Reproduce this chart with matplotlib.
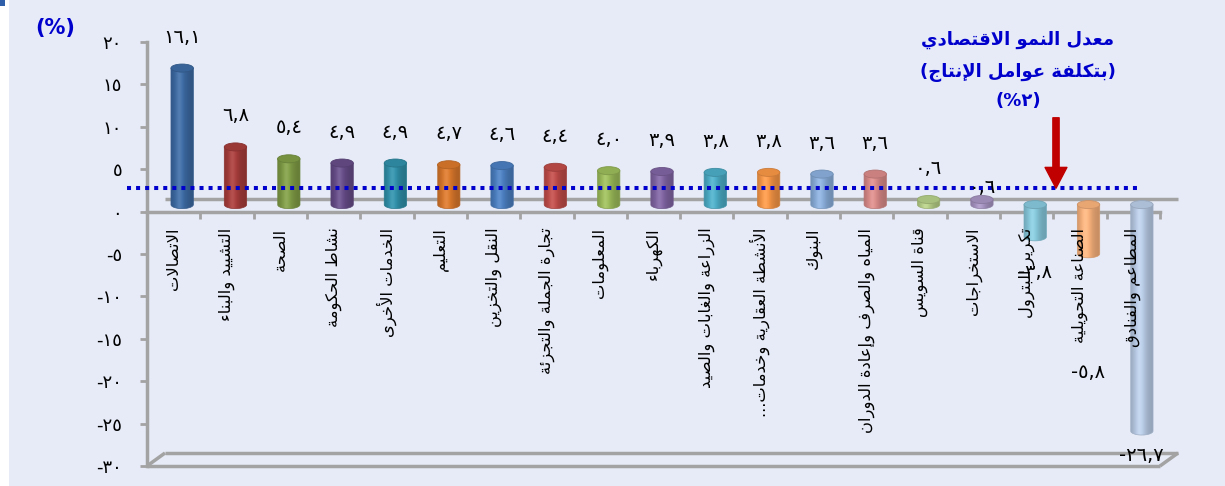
import numpy as np
import matplotlib
matplotlib.use("Agg")
import matplotlib.pyplot as plt
import matplotlib.colors as mcolors
import matplotlib.transforms as mtrans
from matplotlib.patches import Polygon, Ellipse, Rectangle, FancyArrowPatch

# ---------------------------------------------------------------- data
sectors = [
    "الاتصالات", "التشييد والبناء", "الصحة", "نشاط الحكومة", "الخدمات الأخرى",
    "التعليم", "النقل والتخزين", "تجارة الجملة والتجزئة", "المعلومات", "الكهرباء",
    "الزراعة والغابات والصيد", "الأنشطة العقارية وخدمات...", "البنوك",
    "المياه والصرف وإعادة الدوران", "قناة السويس", "الاستخراجات",
    "تكرير البترول", "الصناعة التحويلية", "المطاعم والفنادق",
]
growth = [16.1, 6.8, 5.4, 4.9, 4.9, 4.7, 4.6, 4.4, 4.0, 3.9,
          3.8, 3.8, 3.6, 3.6, 0.6, 0.6, -3.8, -5.8, -26.7]
avg_growth = 2.0
y_ticks = [20, 15, 10, 5, 0, -5, -10, -15, -20, -25, -30]
avg_title = ["معدل النمو الاقتصادي", "(بتكلفة عوامل الإنتاج)", "(٢%)"]
unit_label = "(%)"

# ---------------------------------------------------------------- styles
bar_colors = [
    "#3C6AA3", "#A63C3A", "#7F9C45", "#664C88", "#2F8FA8", "#D9772B",
    "#4A7EC0", "#BE4B48", "#9BBB59", "#8064A2", "#4BACC6", "#F79646",
    "#8AAEDB", "#D98A88", "#B5CE86", "#A794C2", "#86C8DC", "#F9B27C",
    "#B9CCE6",
]
# vertical position of each value label, pixels from the bar end (up is +)
label_dy = [31] * 15 + [12, -36, -119, -24]

BG = "#E6EBF7"
AXIS = "#A3A3A3"
BLUE = "#0000CC"
RED = "#C00000"
DPI = 100
W, H = 1225, 486

# ---------------------------------------------------------------- Arabic shaping
_DUAL = {
    "ئ": 0xFE89, "ب": 0xFE8F, "ت": 0xFE95, "ث": 0xFE99, "ج": 0xFE9D, "ح": 0xFEA1,
    "خ": 0xFEA5, "س": 0xFEB1, "ش": 0xFEB5, "ص": 0xFEB9, "ض": 0xFEBD, "ط": 0xFEC1,
    "ظ": 0xFEC5, "ع": 0xFEC9, "غ": 0xFECD, "ف": 0xFED1, "ق": 0xFED5, "ك": 0xFED9,
    "ل": 0xFEDD, "م": 0xFEE1, "ن": 0xFEE5, "ه": 0xFEE9, "ي": 0xFEF1,
}
_RIGHT = {
    "آ": 0xFE81, "أ": 0xFE83, "ؤ": 0xFE85, "إ": 0xFE87, "ا": 0xFE8D, "ة": 0xFE93,
    "د": 0xFEA9, "ذ": 0xFEAB, "ر": 0xFEAD, "ز": 0xFEAF, "و": 0xFEED, "ى": 0xFEEF,
}
_LAMALEF = {"آ": 0xFEF5, "أ": 0xFEF7, "إ": 0xFEF9, "ا": 0xFEFB}
_MIRROR = {"(": ")", ")": "("}


def ar(text):
    """Contextual forms + right-to-left visual order for plain Arabic text."""
    out, prev_conn, i, n = [], False, 0, len(text)
    while i < n:
        c = text[i]
        nxt = text[i + 1] if i + 1 < n else ""
        if c == "ل" and nxt in _LAMALEF:
            base = _LAMALEF[nxt]
            out.append(chr(base + 1 if prev_conn else base))
            prev_conn = False
            i += 2
            continue
        if c in _DUAL:
            base = _DUAL[c]
            nxt_conn = nxt in _DUAL or nxt in _RIGHT
            if prev_conn and nxt_conn:
                g = base + 3
            elif prev_conn:
                g = base + 1
            elif nxt_conn:
                g = base + 2
            else:
                g = base
            out.append(chr(g))
            prev_conn = True
        elif c in _RIGHT:
            base = _RIGHT[c]
            out.append(chr(base + 1 if prev_conn else base))
            prev_conn = False
        else:
            out.append(c)
            prev_conn = False
        i += 1
    return "".join(_MIRROR.get(ch, ch) for ch in reversed(out))


_DIGITS = str.maketrans("0123456789", "٠١٢٣٤٥٦٧٨٩")


def ar_num(v, decimals=1):
    s = f"{abs(v):.{decimals}f}".replace(".", ",").translate(_DIGITS)
    return ("-" if v < 0 else "") + s


def offset(dx_px, dy_px):
    return mtrans.ScaledTranslation(dx_px / DPI, dy_px / DPI, fig.dpi_scale_trans)


# ---------------------------------------------------------------- figure
plt.rcParams["font.family"] = ["DejaVu Sans"]
fig = plt.figure(figsize=(W / DPI, H / DPI), dpi=DPI)
fig.patch.set_facecolor("white")
fig.add_artist(Rectangle((9 / W, 0), 1 - 9 / W, 1, transform=fig.transFigure,
                         facecolor=BG, edgecolor="none", zorder=-10))
fig.add_artist(Rectangle((0, 1 - 6 / H), 5 / W, 6 / H, transform=fig.transFigure,
                         facecolor="#2E5FA8", edgecolor="none", zorder=-9))

L, R, T, B = 147, 1160, 42, 466
ax = fig.add_axes([L / W, 1 - B / H, (R - L) / W, (B - T) / H])
ax.set_facecolor("none")

n = len(sectors)

# ---- 3-D style frame: back floor lines and bottom edge
DXa, DYa = 18 / (R - L), 13 / (B - T)
y0a = 30 / 50
frame_kw = dict(transform=ax.transAxes, color=AXIS, lw=2.5, clip_on=False,
                solid_capstyle="butt", zorder=1)
ax.plot([DXa, 1 + DXa], [y0a + DYa, y0a + DYa], **frame_kw)
ax.plot([0, 1], [0, 0], **frame_kw)
ax.plot([DXa, 1 + DXa], [DYa, DYa], **frame_kw)
ax.plot([0, DXa], [0, DYa], **frame_kw)
ax.plot([1, 1 + DXa], [0, DYa], **frame_kw)

# ---- cylinders
bar_tr = ax.transData + offset(8.5, 7)
bw, eh = 0.42, 0.95
t = np.linspace(0, 1, 64)
shade = 0.80 + 0.24 * np.exp(-((t - 0.38) / 0.30) ** 2)
theta = np.linspace(np.pi, 2 * np.pi, 40)

for i, (v, col) in enumerate(zip(growth, bar_colors)):
    rgb = np.array(mcolors.to_rgb(col))
    body = np.clip(rgb[None, :] * shade[:, None], 0, 1)
    hl = np.exp(-((t - 0.36) / 0.12) ** 2)[:, None] * 0.10
    body = np.clip(body + (1 - body) * hl, 0, 1)
    top, bot = max(v, 0.0), min(v, 0.0)
    im = ax.imshow(body[None, :, :], extent=(i - bw / 2, i + bw / 2, bot - eh / 2, top),
                   aspect="auto", interpolation="bilinear", transform=bar_tr, zorder=3)
    px_ = np.concatenate([[i - bw / 2], i + bw / 2 * np.cos(theta), [i + bw / 2]])
    py_ = np.concatenate([[top], bot + eh / 2 * np.sin(theta), [top]])
    outline = Polygon(np.column_stack([px_, py_]), closed=True, transform=bar_tr,
                      facecolor="none", edgecolor=tuple(rgb * 0.85), lw=0.5, zorder=3.5)
    ax.add_patch(outline)
    im.set_clip_path(outline)
    cap_col = tuple(np.clip(rgb * 0.93, 0, 1))
    ax.add_patch(Ellipse((i, top), bw, eh, transform=bar_tr, facecolor=cap_col,
                         edgecolor=tuple(rgb * 0.82), lw=0.6, zorder=4))

    ax.annotate(ar_num(v), xy=(i, v), xycoords=bar_tr, xytext=(0, label_dy[i] * 0.72),
                textcoords="offset points", ha="center", va="center",
                fontsize=14, color="black", zorder=7, annotation_clip=False)

# ---- average growth reference line
avg_tr = mtrans.blended_transform_factory(ax.transAxes, ax.transData) + offset(0, 7)
ax.plot([-20 / (R - L), 991 / (R - L)], [avg_growth, avg_growth], transform=avg_tr,
        color=BLUE, lw=2.9, linestyle=(0, (1, 1.25)), dash_capstyle="butt",
        clip_on=False, zorder=6)

# ---- category labels
lab_tr = ax.transData + offset(0, -16)
for i, name in enumerate(sectors):
    ax.text(i, 0, ar(name), transform=lab_tr, rotation=90, ha="center", va="top",
            fontsize=11.8, color="black", zorder=5)

# ---- axes
ax.set_xlim(-0.5, n - 0.5)
ax.set_ylim(y_ticks[-1], y_ticks[0])
ax.set_yticks(y_ticks)
ax.set_yticklabels([ar_num(v, 0) for v in y_ticks], fontsize=13)
ax.set_xticks(np.arange(0.5, n, 1.0))
ax.set_xticklabels([])
for s in ("top", "right"):
    ax.spines[s].set_visible(False)
ax.spines["left"].set_color(AXIS)
ax.spines["left"].set_linewidth(2.5)
ax.spines["bottom"].set_position(("data", 0))
ax.spines["bottom"].set_color(AXIS)
ax.spines["bottom"].set_linewidth(2.5)
ax.spines["bottom"].set_zorder(2)
ax.tick_params(axis="y", direction="out", length=5, width=2, color=AXIS, pad=13)
ax.tick_params(axis="x", direction="out", length=5, width=2, color=AXIS)

# ---- annotations
fig.text(55 / W, 1 - 28 / H, unit_label, ha="center", va="center", color=BLUE,
         fontsize=15, fontweight="bold")
for line, yp in zip(avg_title, [40, 72, 101]):
    fig.text(1018 / W, 1 - yp / H, ar(line), ha="center", va="center", color=BLUE,
             fontsize=13, fontweight="bold")

arrow = FancyArrowPatch((1056 / W, 1 - 115 / H), (1056 / W, 1 - 191 / H),
                        transform=fig.transFigure,
                        arrowstyle="simple,head_length=1.0,head_width=1.05,tail_width=0.3",
                        mutation_scale=15, color=RED, zorder=8)
fig.add_artist(arrow)

fig.savefig("out.png", dpi=DPI, facecolor=fig.get_facecolor())
